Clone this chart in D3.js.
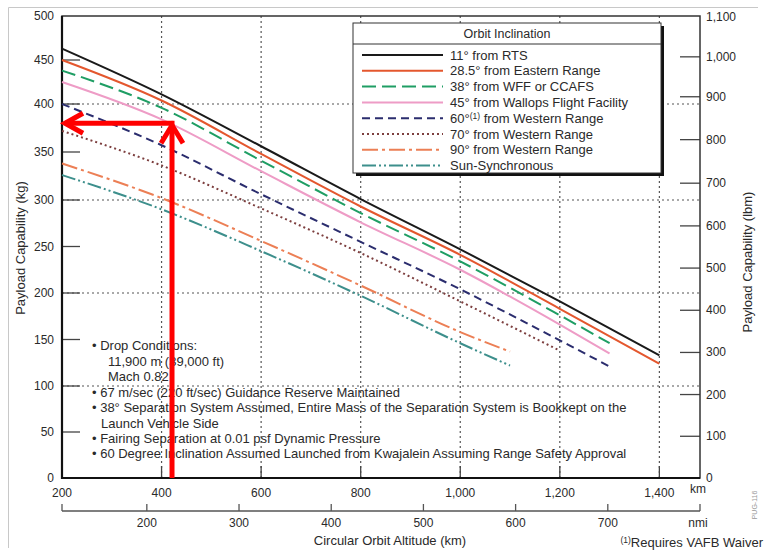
<!DOCTYPE html>
<html>
<head>
<meta charset="utf-8" />
<title>Payload Capability</title>
<style type="text/css">
	body { margin: 0; background: #fff; }
	svg text { font-family: "Liberation Sans", Arial, sans-serif; fill: #2a2a2a; }
</style>
</head>
<body>
<svg width="764" height="550"></svg>
<script src="https://cdn.jsdelivr.net/npm/d3@7"></script>
<script type="text/javascript">
	// altitudes (km) at which each curve is read
	var kmTo1400 = [200, 400, 600, 800, 1000, 1200, 1400];
	var kmTo1300 = [200, 400, 600, 800, 1000, 1200, 1300];
	var kmTo1200 = [200, 400, 600, 800, 1000, 1200];
	var kmTo1100 = [200, 400, 600, 800, 1000, 1100];

	// payload (kg)
	var rts11 = [463, 411, 356, 301, 247, 191, 133];
	var eastern285 = [450, 404, 348, 293, 241, 183, 124];
	var wff38 = [438, 396, 341, 286, 234, 176, 146];
	var wallops45 = [425, 384, 330, 276, 225, 166, 135];
	var western60 = [400, 357, 306, 255, 204, 149, 121];
	var western70 = [372, 336, 291, 243, 191, 138];
	var western90 = [338, 302, 256, 208, 158, 137];
	var sunSync = [326, 290, 245, 197, 146, 122];

	var seriesLabels = ["11° from RTS", "28.5° from Eastern Range", "38° from WFF or CCAFS",
		"45° from Wallops Flight Facility", "60°|(1)| from Western Range", "70° from Western Range",
		"90° from Western Range", "Sun-Synchronous"];

	var kmTicks = [200, 400, 600, 800, 1000, 1200, 1400];
	var nmiTicks = [200, 300, 400, 500, 600, 700];
	var kgTicks = d3.range(0, 501, 50);
	var lbmTicks = d3.range(0, 1101, 100);
	var gridKm = [400, 600, 800, 1000, 1200, 1400];
	var gridKg = [100, 200, 300, 400];

	var noteLines = [
		["• ", "Drop Conditions:"],
		["", "11,900 m (39,000 ft)"],
		["", "Mach 0.82"],
		["• ", "67 m/sec (220 ft/sec) Guidance Reserve Maintained"],
		["• ", "38° Separation System Assumed, Entire Mass of the Separation System is Bookkept on the"],
		["  ", "Launch Vehicle Side"],
		["• ", "Fairing Separation at 0.01 psf Dynamic Pressure"],
		["• ", "60 Degree Inclination Assumed Launched from Kwajalein Assuming Range Safety Approval"]
	];

	// red annotation arrow point
	var arrowKm = 421, arrowKg = 380;

	var KM_PER_NMI = 1.852, KG_PER_LBM = 0.45359237;

	var series = [
		{ km: kmTo1400, kg: rts11, color: "#1a1a1a", dash: null },
		{ km: kmTo1400, kg: eastern285, color: "#e4572e", dash: null },
		{ km: kmTo1300, kg: wff38, color: "#1f9e64", dash: "14,6" },
		{ km: kmTo1300, kg: wallops45, color: "#ee9cc6", dash: null },
		{ km: kmTo1300, kg: western60, color: "#2b2d6e", dash: "8,5" },
		{ km: kmTo1200, kg: western70, color: "#7d3f3f", dash: "2,3" },
		{ km: kmTo1100, kg: western90, color: "#ec7f55", dash: "16,4,3,4" },
		{ km: kmTo1100, kg: sunSync, color: "#3d8f8c", dash: "14,3,2,3,2,3" }
	];

	var svg = d3.select("svg");
	var pL = 62, pR = 700, pT = 16, pB = 478;

	// x ends at 800 nmi; y follows the printed gridlines, which are a little uneven near the top
	var x = d3.scaleLinear().domain([200, 800 * KM_PER_NMI]).range([pL, pR]);
	var y = d3.scaleLinear()
		.domain([0, 100, 200, 300, 400, 500])
		.range([pB, 386, 293, 200, 104, pT]);

	// outer picture frame
	svg.append("path").attr("d", "M8.5,548 V7.5 H758").attr("fill", "none").attr("stroke", "#c8c8c8");

	// gridlines
	var grid = svg.append("g").attr("stroke", "#555").attr("stroke-dasharray", "2,3").attr("stroke-width", 1.2);
	grid.selectAll(".gx").data(gridKm).enter().append("line")
		.attr("x1", function(d) { return x(d); }).attr("x2", function(d) { return x(d); })
		.attr("y1", pT).attr("y2", pB);
	grid.selectAll(".gy").data(gridKg).enter().append("line")
		.attr("x1", pL).attr("x2", pR)
		.attr("y1", function(d) { return y(d); }).attr("y2", function(d) { return y(d); });

	// inward ticks
	svg.append("g").attr("stroke", "#444").attr("stroke-width", 1.3)
		.selectAll("line").data(kgTicks.slice(1, -1)).enter().append("line")
		.attr("x1", pL).attr("x2", pL + 18)
		.attr("y1", function(d) { return y(d); }).attr("y2", function(d) { return y(d); });
	svg.append("g").attr("stroke", "#444").attr("stroke-width", 1.3)
		.selectAll("line").data(lbmTicks.slice(1, -1)).enter().append("line")
		.attr("x1", pR - 20).attr("x2", pR)
		.attr("y1", function(d) { return y(d * KG_PER_LBM); }).attr("y2", function(d) { return y(d * KG_PER_LBM); });
	svg.append("g").attr("stroke", "#444").attr("stroke-width", 1.3)
		.selectAll("line").data(kmTicks.slice(1)).enter().append("line")
		.attr("x1", function(d) { return x(d); }).attr("x2", function(d) { return x(d); })
		.attr("y1", pB - 12).attr("y2", pB);

	// plot frame
	svg.append("rect").attr("x", pL).attr("y", pT).attr("width", pR - pL).attr("height", pB - pT)
		.attr("fill", "none").attr("stroke", "#333").attr("stroke-width", 1.5);
	svg.append("path").attr("d", "M" + pL + "," + pT + " V" + pB + " H" + pR)
		.attr("fill", "none").attr("stroke", "#111").attr("stroke-width", 2.2);

	// curves
	var line = d3.line()
		.x(function(d) { return x(d[0]); })
		.y(function(d) { return y(d[1]); })
		.curve(d3.curveMonotoneX);

	svg.append("g").selectAll("path").data(series).enter().append("path")
		.attr("d", function(s) { return line(d3.zip(s.km, s.kg)); })
		.attr("fill", "none")
		.attr("stroke", function(s) { return s.color; })
		.attr("stroke-width", 2)
		.attr("stroke-dasharray", function(s) { return s.dash; });

	var fmt = d3.format(",");
	// left axis labels
	svg.append("g").selectAll("text").data(kgTicks).enter().append("text")
		.attr("x", 54).attr("y", function(d) { return y(d) + 4; })
		.attr("text-anchor", "end").attr("font-size", 12).text(function(d) { return d; });
	// right axis labels
	svg.append("g").selectAll("text").data(lbmTicks).enter().append("text")
		.attr("x", 706).attr("y", function(d) { return y(d * KG_PER_LBM) + 4; })
		.attr("font-size", 12).text(function(d) { return fmt(d); });
	// km labels
	svg.append("g").selectAll("text").data(kmTicks).enter().append("text")
		.attr("x", function(d) { return x(d); }).attr("y", 497)
		.attr("text-anchor", "middle").attr("font-size", 12).text(function(d) { return fmt(d); });
	svg.append("text").attr("x", 698).attr("y", 493).attr("text-anchor", "middle").attr("font-size", 12).text("km");

	// nmi axis
	var nmiY = 511;
	svg.append("line").attr("x1", pL).attr("x2", pR).attr("y1", nmiY).attr("y2", nmiY)
		.attr("stroke", "#555").attr("stroke-width", 1.3);
	svg.append("g").attr("stroke", "#555").attr("stroke-width", 1.3)
		.selectAll("line").data([200 / KM_PER_NMI].concat(nmiTicks, [800])).enter().append("line")
		.attr("x1", function(d) { return x(d * KM_PER_NMI); }).attr("x2", function(d) { return x(d * KM_PER_NMI); })
		.attr("y1", nmiY - 7).attr("y2", nmiY);
	svg.append("g").selectAll("text").data(nmiTicks).enter().append("text")
		.attr("x", function(d) { return x(d * KM_PER_NMI); }).attr("y", 527)
		.attr("text-anchor", "middle").attr("font-size", 12).text(function(d) { return d; });
	svg.append("text").attr("x", 698).attr("y", 527).attr("text-anchor", "middle").attr("font-size", 12).text("nmi");

	// axis titles
	svg.append("text").attr("x", 390).attr("y", 545).attr("text-anchor", "middle").attr("font-size", 13)
		.text("Circular Orbit Altitude (km)");
	svg.append("text").attr("transform", "translate(25,248) rotate(-90)").attr("text-anchor", "middle")
		.attr("font-size", 13).text("Payload Capability (kg)");
	svg.append("text").attr("transform", "translate(752,262) rotate(-90)").attr("text-anchor", "middle")
		.attr("font-size", 13).text("Payload Capability (lbm)");
	var waiver = svg.append("text").attr("x", 763).attr("y", 547).attr("text-anchor", "end").attr("font-size", 13);
	waiver.append("tspan").attr("font-size", 8.5).attr("dy", -4).text("(1)");
	waiver.append("tspan").attr("dy", 4).text("Requires VAFB Waiver");
	svg.append("text").attr("transform", "translate(757,505) rotate(-90)").attr("text-anchor", "middle")
		.attr("font-size", 7).style("fill", "#999").text("PUG-116");

	// legend
	var lg = svg.append("g");
	var lx = 353, ly = 23, lw = 308, lh = 150;
	lg.append("rect").attr("x", lx + 3).attr("y", ly + 3).attr("width", lw).attr("height", lh).attr("fill", "#111");
	lg.append("rect").attr("x", lx).attr("y", ly).attr("width", lw).attr("height", lh)
		.attr("fill", "#fff").attr("stroke", "#333").attr("stroke-width", 1);
	lg.append("line").attr("x1", lx).attr("x2", lx + lw).attr("y1", ly + 21).attr("y2", ly + 21)
		.attr("stroke", "#333").attr("stroke-width", 1);
	lg.append("text").attr("x", lx + lw / 2).attr("y", ly + 15).attr("text-anchor", "middle")
		.attr("font-size", 12.5).text("Orbit Inclination");
	var rowY = function(i) { return ly + 32 + i * 15.8; };
	lg.selectAll(".ls").data(series).enter().append("line")
		.attr("x1", lx + 9).attr("x2", lx + 90)
		.attr("y1", function(d, i) { return rowY(i); }).attr("y2", function(d, i) { return rowY(i); })
		.attr("stroke", function(s) { return s.color; }).attr("stroke-width", 2)
		.attr("stroke-dasharray", function(s) { return s.dash; });
	lg.selectAll(".lt").data(seriesLabels).enter().append("text")
		.attr("x", lx + 97).attr("y", function(d, i) { return rowY(i) + 4.5; })
		.attr("font-size", 13)
		.each(function(d) {
			var parts = d.split("|");
			var t = d3.select(this);
			t.append("tspan").text(parts[0]);
			if (parts.length > 1) {
				t.append("tspan").attr("font-size", 8.5).attr("dy", -4).text(parts[1]);
				t.append("tspan").attr("dy", 4).text(parts[2]);
			}
		});

	// notes
	var noteY = [345, 361, 376, 392, 407, 423, 438, 453];
	var noteX = [92, 108, 108, 92, 92, 101, 92, 92];
	svg.append("g").selectAll("text").data(noteLines).enter().append("text")
		.attr("x", function(d, i) { return noteX[i]; })
		.attr("y", function(d, i) { return noteY[i] + 4.5; })
		.attr("font-size", 13)
		.text(function(d) { return d[0] === "• " ? d[0] + d[1] : d[1]; });

	// red arrows
	var ax = x(arrowKm), ay = y(arrowKg);
	var red = svg.append("g").attr("stroke", "#f00").attr("fill", "none").attr("stroke-width", 5)
		.attr("stroke-linecap", "butt");
	red.append("line").attr("x1", ax).attr("x2", ax).attr("y1", y(0)).attr("y2", ay + 2);
	red.append("line").attr("x1", ax + 2.5).attr("x2", x(200) + 3).attr("y1", ay).attr("y2", ay);
	red.append("path").attr("d", "M" + (ax - 11) + "," + (ay + 20) + " L" + ax + "," + (ay + 2) + " L" + (ax + 11) + "," + (ay + 20))
		.attr("stroke-linejoin", "miter");
	red.append("path").attr("d", "M" + (x(200) + 21) + "," + (ay - 10) + " L" + (x(200) + 3) + "," + ay + " L" + (x(200) + 21) + "," + (ay + 10))
		.attr("stroke-linejoin", "miter");
</script>
</body>
</html>
